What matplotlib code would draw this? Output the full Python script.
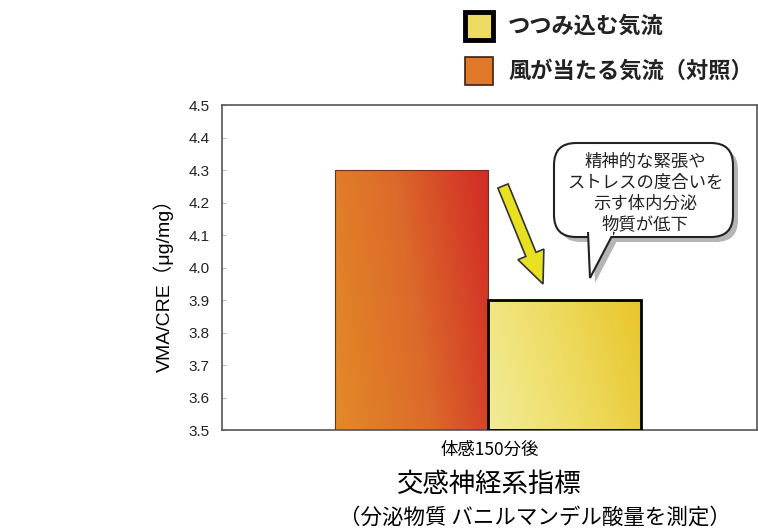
import numpy as np
import matplotlib.pyplot as plt
from matplotlib.colors import LinearSegmentedColormap
from matplotlib.patches import FancyBboxPatch, Polygon, FancyArrow, Rectangle

plt.rcParams['font.family'] = ['Noto Sans CJK JP', 'DejaVu Sans']

# データ
series = ['風が当たる気流（対照）', 'つつみ込む気流']
values = [4.3, 3.9]
category = '体感150分後'
yticks = [3.5, 3.6, 3.7, 3.8, 3.9, 4.0, 4.1, 4.2, 4.3, 4.4, 4.5]

red_cmap = LinearSegmentedColormap.from_list('red', ['#e38a28', '#dc6a2a', '#d22a26'])
yel_cmap = LinearSegmentedColormap.from_list('yel', ['#f2ec98', '#eedc62', '#e9c52a'])

fig = plt.figure(figsize=(7.58, 5.31), dpi=100)
ax = fig.add_axes([0.2929, 0.1902, 0.7058, 0.612])

width = 0.286
xs = [-width / 2 - 0.003, width / 2 - 0.003]
bars = ax.bar(xs, [v - 3.5 for v in values], width, bottom=3.5,
              color='none', zorder=3)
bars[0].set_edgecolor('#703020')
bars[0].set_linewidth(0.8)
bars[1].set_edgecolor('black')
bars[1].set_linewidth(2)

# グラデーション塗り
gx, gy = np.meshgrid(np.linspace(0, 1, 200), np.linspace(0, 1, 200))
for bar, cmap in zip(bars, [red_cmap, yel_cmap]):
    x0, y0 = bar.get_x(), bar.get_y()
    w, h = bar.get_width(), bar.get_height()
    grad = 0.8 * gx + 0.2 * gy
    im = ax.imshow(grad, cmap=cmap, extent=[x0, x0 + w, y0, y0 + h],
                   origin='lower', aspect='auto', zorder=2)
    im.set_clip_path(bar)

ax.set_xlim(-0.5, 0.5)
ax.set_ylim(3.5, 4.5)
ax.set_yticks(yticks)
ax.set_yticklabels([f'{t:.1f}' for t in yticks], fontsize=11, color='#222',
                   family=['Liberation Sans', 'DejaVu Sans'])
ax.tick_params(axis='y', direction='in', length=3, color='#bbbbbb', pad=9)
ax.set_xticks([])
for s in ax.spines.values():
    s.set_color('#555555')
    s.set_linewidth(1.2)
ax.set_ylabel('VMA/CRE（μg/mg）', fontsize=14,
              family=['Liberation Sans', 'Noto Sans CJK JP'])
ax.yaxis.set_label_coords(-0.09, 0.46)

# 下部のテキスト
fig.text(0.646, 0.152, category, ha='center', va='center', fontsize=12.5)
fig.text(0.646, 0.088, '交感神経系指標', ha='center', va='center', fontsize=19)
fig.text(0.706, 0.026, '（分泌物質 バニルマンデル酸量を測定）', ha='center',
         va='center', fontsize=15.5)

# 重ね描き用（ピクセル座標）
ov = fig.add_axes([0, 0, 1, 1], facecolor='none')
ov.set_xlim(0, 758)
ov.set_ylim(531, 0)
ov.axis('off')

# 凡例
ov.add_patch(Rectangle((465, 12), 28, 28, facecolor='#eedc62',
                       edgecolor='black', linewidth=3.5))
ov.add_patch(Rectangle((465, 57), 28, 28, facecolor='#e07a2a',
                       edgecolor='#402010', linewidth=1.2))
ov.text(508, 26, series[1], va='center', fontsize=16, weight='bold',
        color='#222')
ov.text(508, 71, series[0], va='center', fontsize=16, weight='bold',
        color='#222')

# 矢印
ov.add_patch(FancyArrow(503, 186, 40, 98, width=11, head_width=28,
                        head_length=32, length_includes_head=True,
                        facecolor='#e8e020', edgecolor='#333', linewidth=1.2,
                        zorder=5))

# 吹き出し
def bubble(dx, dy, fc, ec, z):
    ov.add_patch(FancyBboxPatch((554 + dx, 143 + dy), 179, 94,
                                boxstyle='round,pad=0,rounding_size=22',
                                facecolor=fc, edgecolor=ec, linewidth=1.5,
                                zorder=z))
    ov.add_patch(Polygon([(588 + dx, 232 + dy), (590 + dx, 278 + dy),
                          (614 + dx, 232 + dy)], closed=False,
                         facecolor=fc, edgecolor=ec, linewidth=1.5, zorder=z))

bubble(5, 5, '#b5b5b5', 'none', 4)
bubble(0, 0, 'white', '#222', 5)
ov.add_patch(Rectangle((589.5, 228), 23, 8.2, facecolor='white', edgecolor='none',
                       zorder=6))
ov.text(645, 193, '精神的な緊張や\nストレスの度合いを\n示す体内分泌\n物質が低下',
        ha='center', va='center', fontsize=12.5, linespacing=1.2, zorder=7,
        color='#222')

fig.savefig('out.png', dpi=100)
